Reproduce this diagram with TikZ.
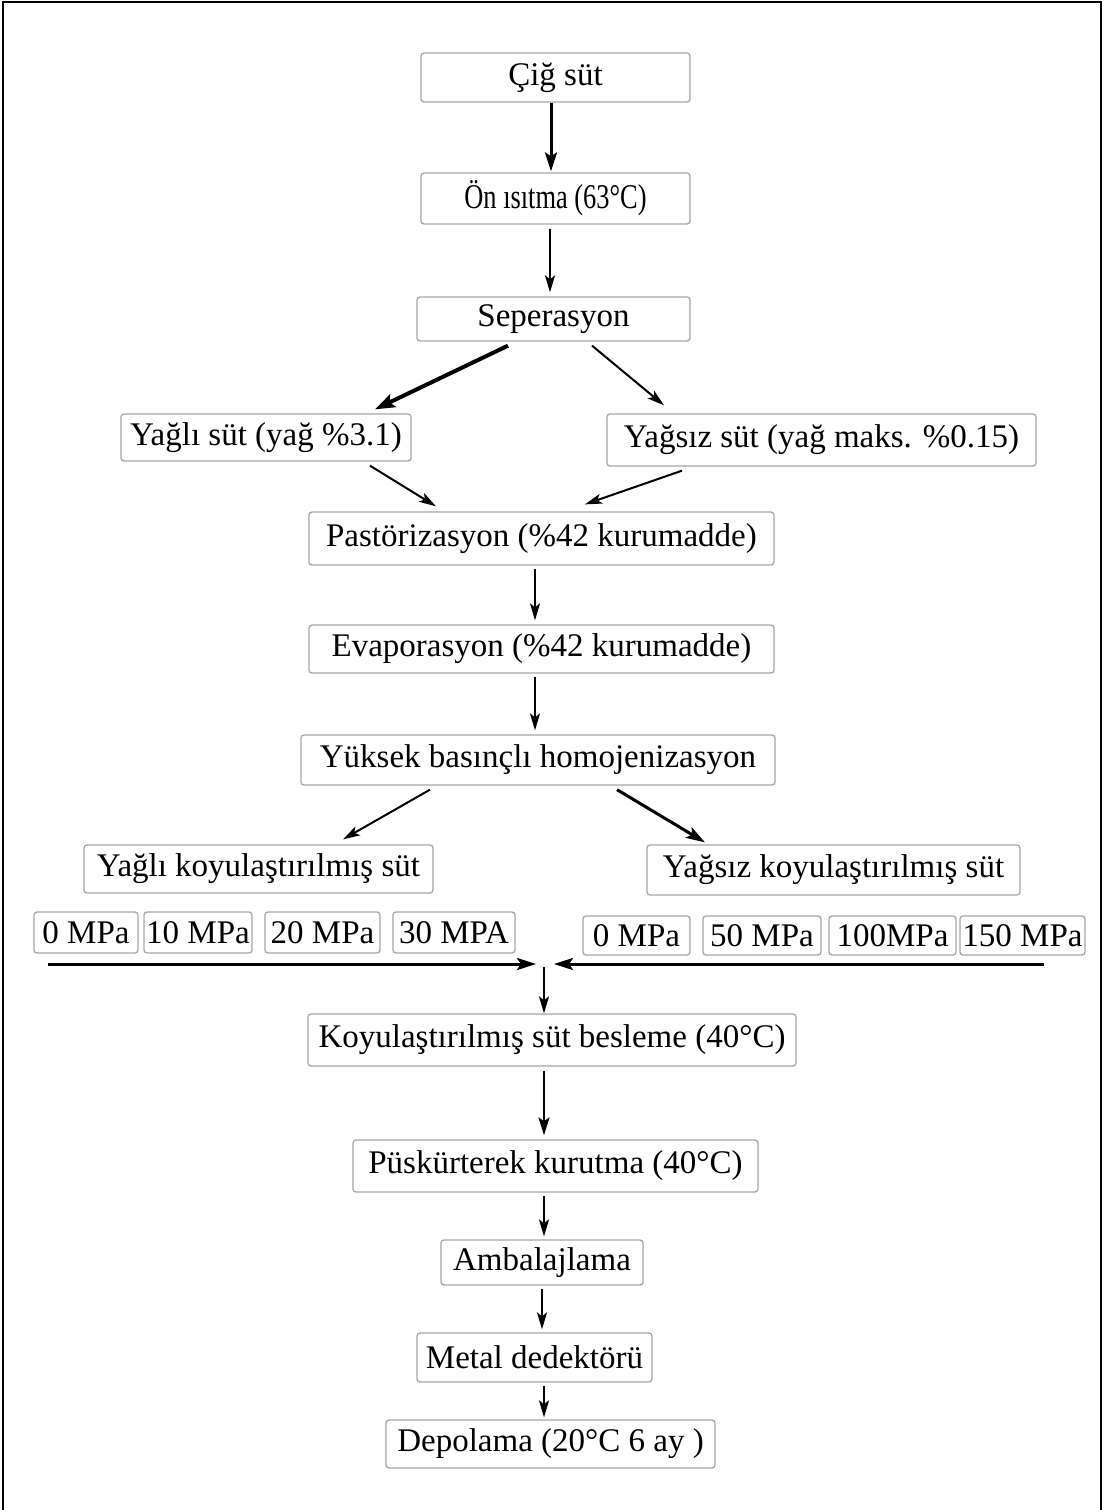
\documentclass[tikz,border=0pt]{standalone}
\usepackage{fontspec}
\setmainfont{Liberation Serif}
\usetikzlibrary{arrows.meta,calc}
\tikzset{
  box/.style={draw=black!35, line width=1.3pt, rounded corners=3pt, inner sep=0pt, font=\fontsize{33}{36}\selectfont, fill=white},
  arr/.style={line width=2pt, -{Stealth[length=17pt,width=10pt,inset=4pt]}},
  tarr/.style={line width=3pt, -{Stealth[length=19pt,width=12pt,inset=4pt]}},
  frame/.style={line width=2.5pt}
}
\begin{document}
\begin{tikzpicture}[x=1pt,y=-1pt]
\useasboundingbox (0,0) rectangle (1105,1510);
\fill[white] (0,0) rectangle (1105,1510);
\draw[frame] (3,1512) -- (3,2) -- (1101,2) -- (1101,1512);

\node[box, minimum width=269, minimum height=49] (c1) at (555.5,77.5) {Çiğ süt};
\node[box, minimum width=269, minimum height=51] (c2) at (555.5,198.5) {\scalebox{0.8}[1.05]{Ön ısıtma (63°C)}};
\node[box, minimum width=273, minimum height=44] (c3) at (553.5,319) {Seperasyon};
\node[box, minimum width=290, minimum height=47] (c4) at (266,437.5) {Yağlı süt (yağ \%3.1)};
\node[box, minimum width=429, minimum height=52] (c5) at (821.5,440) {Yağsız süt (yağ maks. \%0.15)};
\node[box, minimum width=465, minimum height=53] (c6) at (541.5,538.5) {Pastörizasyon (\%42 kurumadde)};
\node[box, minimum width=465, minimum height=48] (c7) at (541.5,649) {Evaporasyon (\%42 kurumadde)};
\node[box, minimum width=474, minimum height=50] (c8) at (538,760) {Yüksek basınçlı homojenizasyon};
\node[box, minimum width=349, minimum height=48] (c9) at (258.5,869) {Yağlı koyulaştırılmış süt};
\node[box, minimum width=373, minimum height=50] (c10) at (833.5,870) {Yağsız koyulaştırılmış süt};

\node[box, minimum width=104, minimum height=41] (m1) at (86,932.5) {0 MPa};
\node[box, minimum width=108, minimum height=41] (m2) at (198,932.5) {10 MPa};
\node[box, minimum width=115, minimum height=41] (m3) at (322.5,932.5) {20 MPa};
\node[box, minimum width=122, minimum height=41] (m4) at (454,932.5) {30 MPA};
\node[box, minimum width=107, minimum height=39] (m5) at (636.5,935.5) {0 MPa};
\node[box, minimum width=118, minimum height=39] (m6) at (762,935.5) {50 MPa};
\node[box, minimum width=127, minimum height=39] (m7) at (892.5,935.5) {100MPa};
\node[box, minimum width=125, minimum height=39] (m8) at (1022.5,935.5) {150 MPa};

\node[box, minimum width=488, minimum height=52] (c11) at (552,1040) {Koyulaştırılmış süt besleme (40°C)};
\node[box, minimum width=405, minimum height=52] (c12) at (555.5,1166) {Püskürterek kurutma (40°C)};
\node[box, minimum width=202, minimum height=45] (c13) at (542,1262.5) {Ambalajlama};
\node[box, minimum width=235, minimum height=49] (c14) at (534.5,1357.5) {Metal dedektörü};
\node[box, minimum width=329, minimum height=48] (c15) at (550.5,1444) {Depolama (20°C 6 ay )};

\coordinate (lstart) at (48,964);
\coordinate (lend) at (536,964);
\coordinate (rstart) at (1044,964);
\coordinate (rend) at (554,964);
\coordinate (merge) at (544,967);

\draw[tarr] ($(c1.south)+(-4.5,0)$) -- ($(c2.north)+(-4.5,-1)$);
\draw[arr] ($(c2.south)+(-5.5,4)$) -- ($(c3.north)+(-3.5,-4)$);
\draw[line width=4pt, -{Stealth[length=20pt,width=14pt,inset=4pt]}] ($(c3.south)+(-45.5,4)$) -- ($(c4.north)+(109,-4)$);
\draw[arr] ($(c3.south)+(38.5,4)$) -- ($(c5.north)+(-157.5,-8)$);
\draw[arr] ($(c4.south)+(104,4)$) -- ($(c6.north)+(-105.5,-5)$);
\draw[arr] ($(c5.south)+(-139.5,4)$) -- ($(c6.north)+(43.5,-7)$);
\draw[arr] ($(c6.south)+(-6.5,3)$) -- ($(c7.north)+(-6.5,-4)$);
\draw[arr] ($(c7.south)+(-6.5,3)$) -- ($(c8.north)+(-3,-4)$);
\draw[arr] ($(c8.south)+(-108,4)$) -- ($(c9.north)+(84.5,-5)$);
\draw[tarr] ($(c8.south)+(79,4)$) -- ($(c10.north)+(-128.5,-2)$);
\draw[tarr] (lstart) -- (lend);
\draw[tarr] (rstart) -- (rend);
\draw[arr] (merge) -- (merge |- c11.north);
\draw[line width=2.5pt, -{Stealth[length=18pt,width=11pt,inset=4pt]}] ($(c11.south)+(-8,4)$) -- ($(c12.north)+(-11.5,-4)$);
\draw[arr] ($(c12.south)+(-11.5,3)$) -- ($(c13.north)+(2,-3)$);
\draw[arr] ($(c13.south)+(0,3)$) -- ($(c14.north)+(7.5,-3)$);
\draw[arr] ($(c14.south)+(9.5,3)$) -- ($(c15.north)+(-6.5,-2)$);
\end{tikzpicture}
\end{document}
